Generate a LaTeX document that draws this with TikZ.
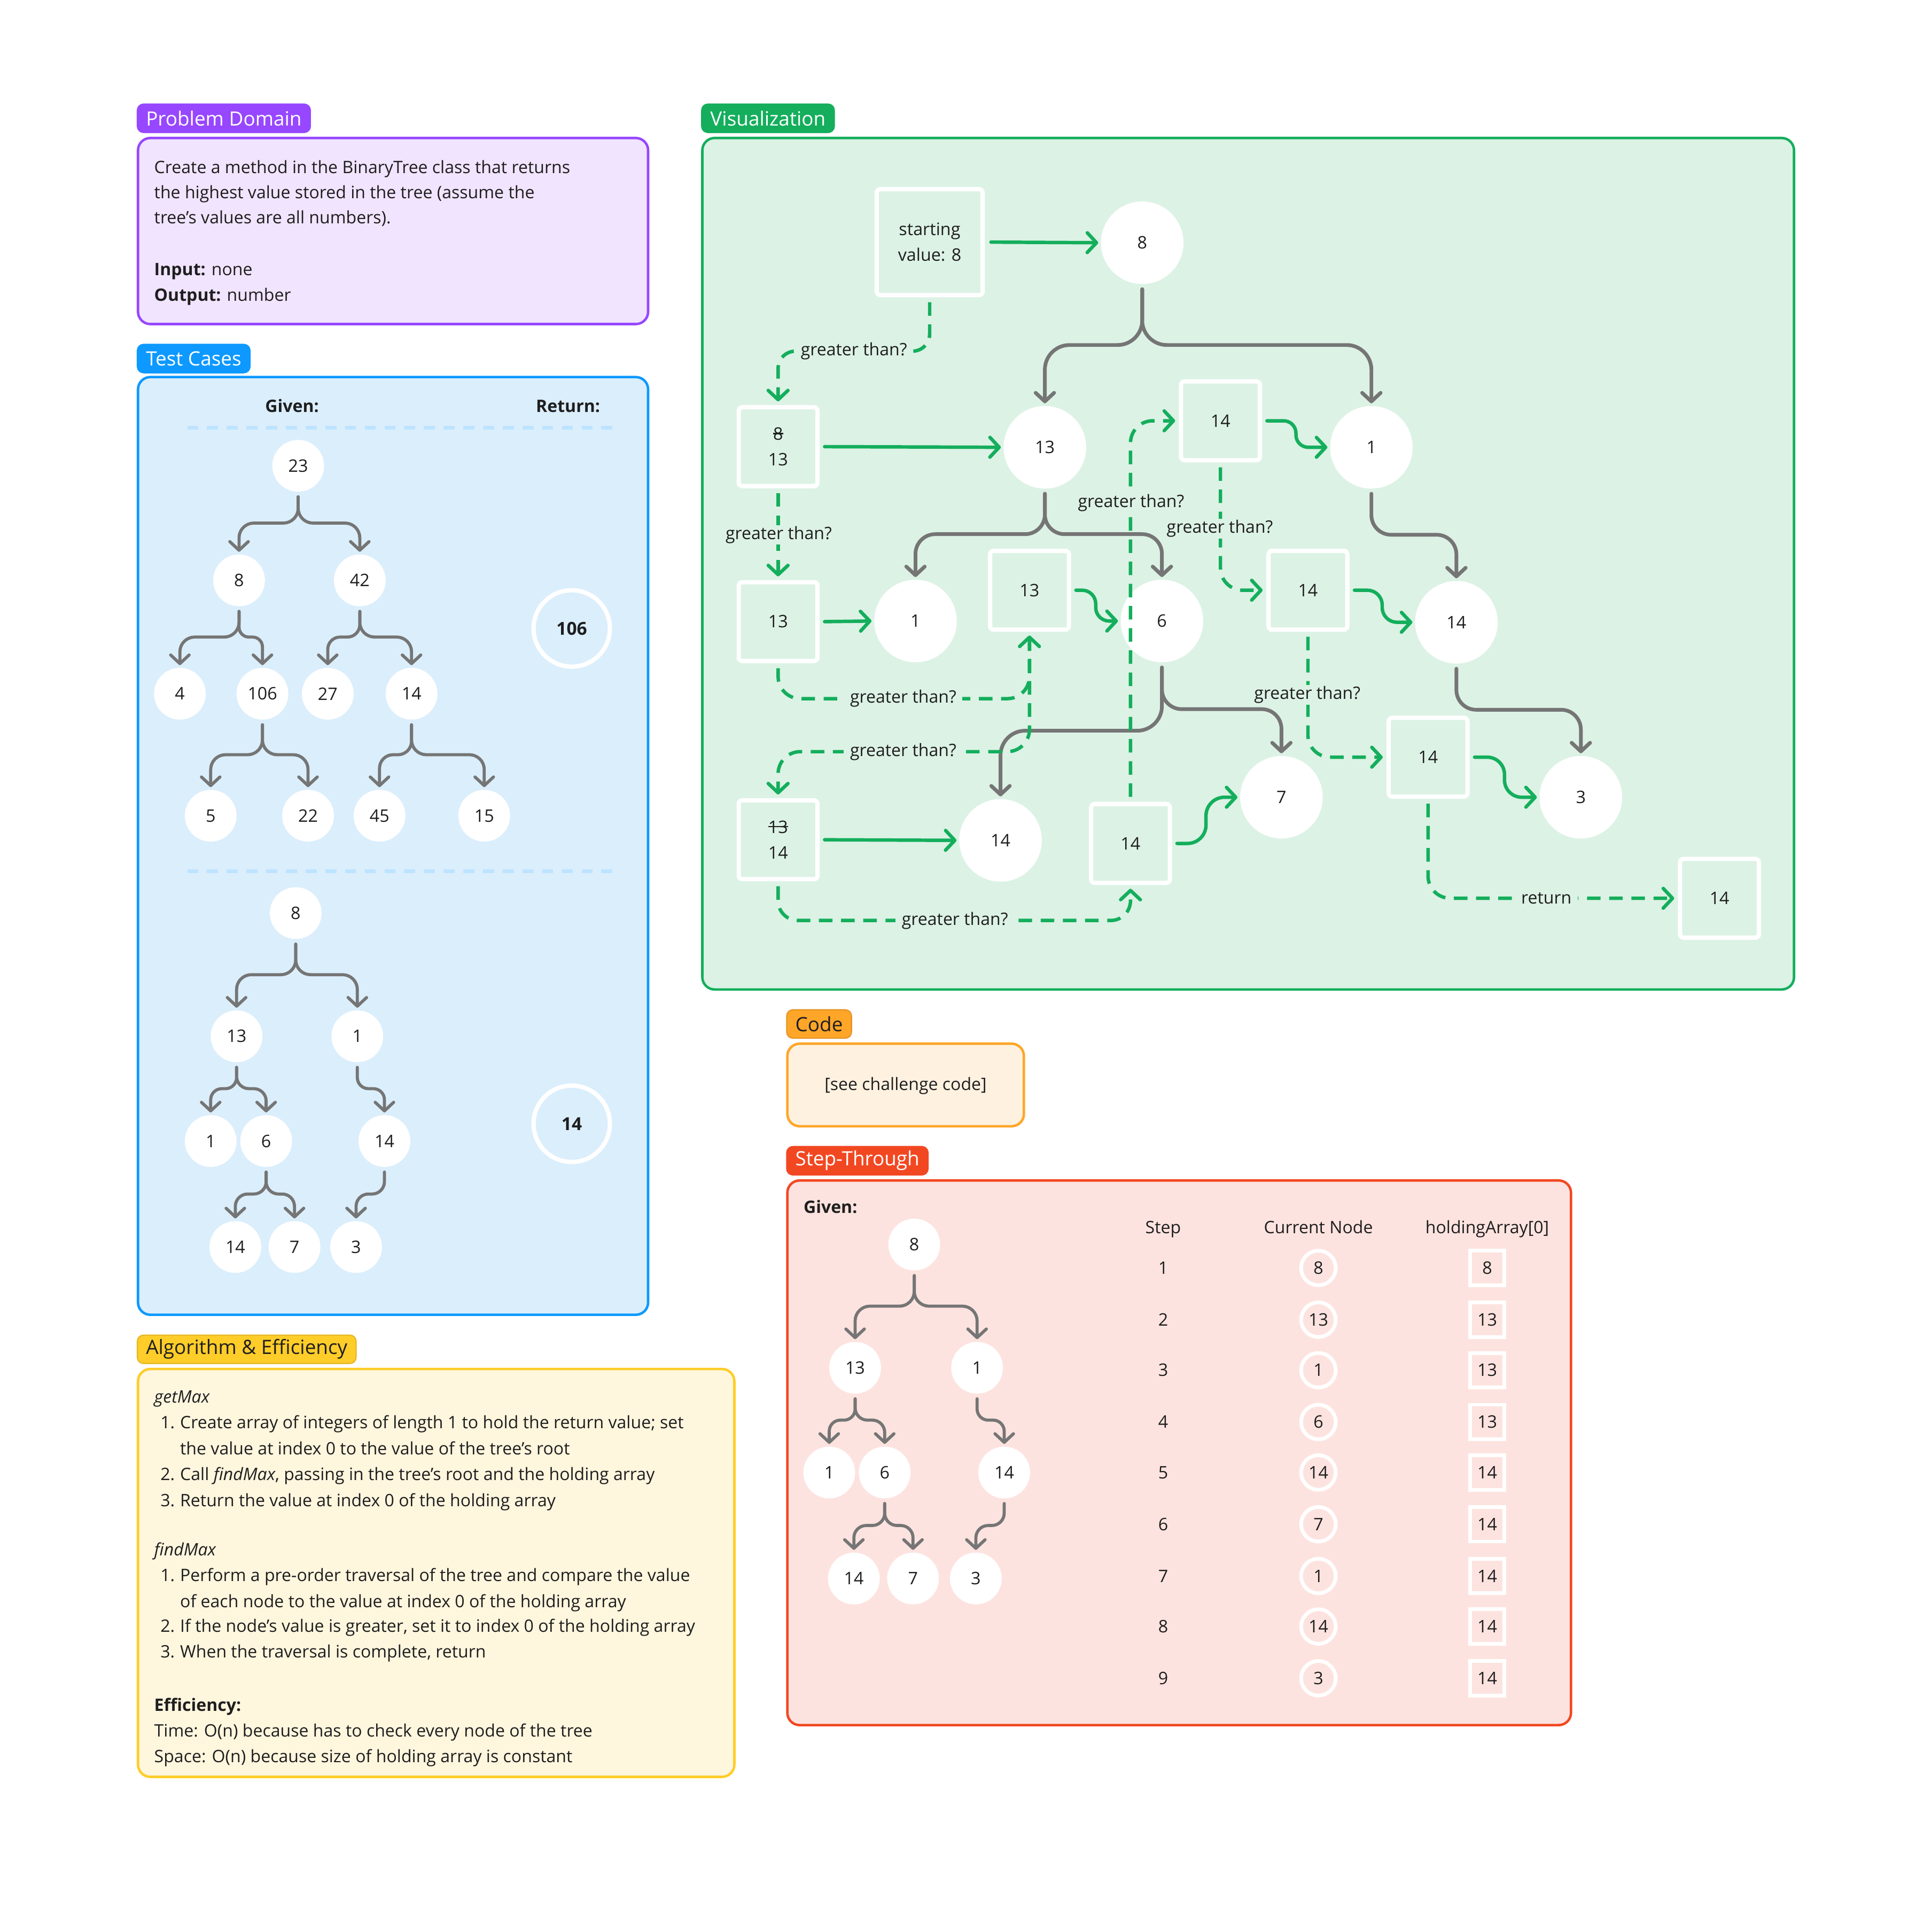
\documentclass[tikz,border=0pt]{standalone}
\usepackage{fontspec}
\setmainfont{Open Sans}
\usetikzlibrary{arrows.meta,calc}
\definecolor{ink}{HTML}{1E1E1E}
\definecolor{pur}{HTML}{9747FF}\definecolor{purbg}{HTML}{F1E4FE}
\definecolor{blu}{HTML}{0D99FF}\definecolor{blubg}{HTML}{DBEEFC}\definecolor{bludash}{HTML}{BDE3FF}
\definecolor{grn}{HTML}{14AE5C}\definecolor{grnbg}{HTML}{DCF2E5}
\definecolor{org}{HTML}{FFA629}\definecolor{orgbg}{HTML}{FFF1E0}
\definecolor{stepred}{HTML}{F24822}\definecolor{stepbg}{HTML}{FDE3DF}
\definecolor{yel}{HTML}{FFCD29}\definecolor{yelbg}{HTML}{FFF6DE}
\definecolor{edgegray}{HTML}{757575}
\newcommand\bodyfont{\fontsize{13.9}{16}\selectfont}
\newcommand\tabfont{\fontsize{16}{18}\selectfont}
\newcommand\numfont{\fontsize{14}{21}\selectfont}
\newcommand\vfont{\fontsize{13.9}{16}\selectfont}
\newcommand\boldnum{\fontsize{14.5}{17}\selectfont\bfseries}
\newcommand\smallnum{\fontsize{14}{17}\selectfont}
\newcommand\strk[1]{\leavevmode\setbox0=\hbox{#1}\rlap{\copy0}\rule[0.33em]{\wd0}{0.075em}}
\tikzset{
  txt/.style={anchor=base west, inner sep=0pt, text=ink, font=\bodyfont},
  tab/.style={anchor=north west, rounded corners=5pt, minimum height=23pt, inner xsep=7pt, inner ysep=0pt, font=\tabfont, line width=1pt},
  panel/.style={rounded corners=10pt, line width=2pt},
  tn/.style={circle, fill=white, minimum size=42pt, inner sep=0pt, text=ink, font=\numfont},
  vn/.style={circle, fill=white, minimum size=67pt, inner sep=0pt, text=ink, font=\numfont},
  vbox/.style={rectangle, draw=white, fill=grnbg, line width=3.5pt, rounded corners=3pt, minimum size=64pt, inner sep=0pt, text=ink, font=\numfont, align=center},
  treeedge/.style={draw=edgegray, line width=2.5pt, line cap=round, -{Straight Barb[length=7pt,width=15pt,round]}},
  vedge/.style={line width=3pt},
  gline/.style={draw=grn, line width=2.8pt, line cap=round, -{Straight Barb[length=7.5pt,width=16pt,round]}},
  gdash/.style={gline, line cap=butt, dash pattern=on 11pt off 7pt},
  glab/.style={fill=grnbg, inner xsep=5pt, inner ysep=1pt, text=ink, font=\vfont},
  ring/.style={circle, draw=white, line width=3.5pt, minimum size=62pt, inner sep=0pt, text=ink, font=\boldnum},
  cring/.style={circle, draw=white, line width=3pt, minimum size=28pt, inner sep=0pt, text=ink, font=\smallnum},
  hsq/.style={rectangle, draw=white, line width=3pt, minimum size=28pt, inner sep=0pt, text=ink, font=\smallnum},
}
\newcommand\tedge[4][]{%
  \path ($(#2.south)!.5!(#3.north)$) coordinate (tm);
  \draw[treeedge,#1,rounded corners=#4pt] ([yshift=-4pt]#2.south) -- (#2.south |- tm) -- (#3.north |- tm) -- ([yshift=2pt]#3.north);
}
\newcommand\gstep[3]{%
  \path ($(#1.east)!.5!(#2.west)$) coordinate (sm);
  \draw[gline, rounded corners=#3pt] ([xshift=4pt]#1.east) -- (#1.east -| sm) -- (sm |- #2.west) -- ([xshift=-2pt]#2.west);
}
\begin{document}
\begin{tikzpicture}[x=1pt,y=-1pt]
\useasboundingbox (0,0) rectangle (1568,1554);
\fill[white] (0,0) rectangle (1568,1554);

% ---------- panels ----------
\draw[panel, draw=pur, fill=purbg] (112,112) rectangle (526,263);
\draw[panel, draw=blu, fill=blubg] (112,306) rectangle (526,1067);
\draw[panel, draw=grn, fill=grnbg] (570,112) rectangle (1456,803);
\draw[panel, draw=org, fill=orgbg] (639,847) rectangle (831,914);
\draw[panel, draw=stepred, fill=stepbg] (639,958) rectangle (1275,1400);
\draw[panel, draw=yel, fill=yelbg] (112,1111) rectangle (596,1442);

\node[tab, fill=pur, draw=pur, text=white] (tabpd) at (111,84) {Problem Domain};
\node[tab, fill=blu, draw=blu, text=white] (tabtc) at (111,279) {Test Cases};
\node[tab, fill=grn, draw=grn, text=white] (tabvz) at (569,84) {Visualization};
\node[tab, fill=org, draw=org!90!black, text=ink] (tabcd) at (638,819) {Code};
\node[tab, fill=stepred, draw=stepred, text=white] (tabst) at (638,930) {Step-Through};
\node[tab, fill=yel, draw=yel!90!black, text=ink] (tabal) at (111,1083) {Algorithm \& Efficiency};

% ---------- problem domain ----------
\node[txt] (pd1) at (125,140.5) {Create a method in the BinaryTree class that returns};
\node[txt] (pd2) at (125,161) {the highest value stored in the tree (assume the};
\node[txt] (pd3) at (125,181.5) {tree’s values are all numbers).};
\node[txt] (pd4) at (125,223.5) {\textbf{Input:} none};
\node[txt] (pd5) at (125,244.5) {\textbf{Output:} number};

% ---------- test cases ----------
\node[txt, anchor=base, font=\bodyfont\bfseries] (tgiven) at (237,334.5) {Given:};
\node[txt, anchor=base, font=\bodyfont\bfseries] (treturn) at (461,334.5) {Return:};
\draw[bludash, line width=3pt, dash pattern=on 9pt off 7pt] (152,347) -- (500,347);
\draw[bludash, line width=3pt, dash pattern=on 9pt off 7pt] (152,707) -- (500,707);

\node[tn] (a23) at (242,378) {23};
\node[tn] (a8) at (194,471) {8};
\node[tn] (a42) at (292,471) {42};
\node[tn] (a4) at (146,563) {4};
\node[tn] (a106) at (213,563) {106};
\node[tn] (a27) at (266,563) {27};
\node[tn] (a14) at (334,563) {14};
\node[tn] (a5) at (171,662) {5};
\node[tn] (a22) at (250,662) {22};
\node[tn] (a45) at (308,662) {45};
\node[tn] (a15) at (393,662) {15};
\node[ring] (ret1) at (464,510) {106};
\tedge{a23}{a8}{12}
\tedge{a23}{a42}{12}
\tedge{a8}{a4}{12}
\tedge{a8}{a106}{8}
\tedge{a42}{a27}{10}
\tedge{a42}{a14}{12}
\tedge{a106}{a5}{12}
\tedge{a106}{a22}{12}
\tedge{a14}{a45}{11}
\tedge{a14}{a15}{12}

\node[tn] (b8) at (240,741) {8};
\node[tn] (b13) at (192,841) {13};
\node[tn] (b1) at (290,841) {1};
\node[tn] (b1l) at (171,926) {1};
\node[tn] (b6) at (216,926) {6};
\node[tn] (b14) at (312,926) {14};
\node[tn] (b14l) at (191,1012) {14};
\node[tn] (b7) at (239,1012) {7};
\node[tn] (b3) at (289,1012) {3};
\node[ring] (ret2) at (464,912) {14};
\tedge{b8}{b13}{12}
\tedge{b8}{b1}{12}
\tedge{b13}{b1l}{9}
\tedge{b13}{b6}{10}
\tedge{b1}{b14}{9}
\tedge{b6}{b14l}{10}
\tedge{b6}{b7}{10}
\tedge{b14}{b3}{10}

% ---------- visualization ----------
\node[vbox, minimum size=86pt] (start) at (754.5,196.5) {starting\\value: 8};
\node[vn] (c8) at (927,197) {8};
\node[vbox] (B1) at (631.5,362.5) {\strk{8}\\13};
\node[vn] (c13) at (848,363) {13};
\node[vbox] (B14a) at (990.5,341.5) {14};
\node[vn] (c1a) at (1113,363) {1};
\node[vbox] (B2) at (631.5,504.5) {13};
\node[vn] (c1b) at (743,504) {1};
\node[vbox] (B3) at (835.5,479) {13};
\node[vn] (c6) at (943,504) {6};
\node[vbox] (B4) at (1061.5,479) {14};
\node[vn] (c14a) at (1182,505) {14};
\node[vbox] (B5) at (1159,614.5) {14};
\node[vn] (c7) at (1040,647) {7};
\node[vn] (c3) at (1283,647) {3};
\node[vbox] (B6) at (631.5,681.5) {\strk{13}\\14};
\node[vn] (c14b) at (812,682) {14};
\node[vbox] (B7) at (917.5,684.5) {14};
\node[vbox] (B8) at (1395.5,729) {14};

\tedge[vedge]{c8}{c13}{20}
\tedge[vedge]{c8}{c1a}{20}
\tedge[vedge]{c13}{c1b}{16}
\tedge[vedge]{c13}{c6}{16}
\tedge[vedge]{c1a}{c14a}{16}
\tedge[vedge]{c6}{c14b}{20}
\tedge[vedge]{c6}{c7}{16}
\tedge[vedge]{c14a}{c3}{16}

\draw[gline] ([xshift=5pt]start.east) -- ([xshift=-2pt]c8.west);
\draw[gline] ([xshift=4pt]B1.east) -- ([xshift=-2pt]c13.west);
\draw[gline] ([xshift=4pt]B2.east) -- ([xshift=-2pt]c1b.west);
\draw[gline] ([xshift=4pt]B6.east) -- ([xshift=-2pt]c14b.west);
\gstep{B14a}{c1a}{10}
\gstep{B3}{c6}{11}
\gstep{B4}{c14a}{12}
\gstep{B5}{c3}{14}
\gstep{B7}{c7}{15}

\coordinate (g1) at (693,285);
\coordinate (g3) at (733,567);
\coordinate (g4) at (733,610);
\coordinate (g5) at (775,747);
\draw[gdash, rounded corners=14pt] ([yshift=-4pt]start.south) -- (start.south |- g1) -- (B1.north |- g1) -- ([yshift=3pt]B1.north);
\draw[gdash] ([yshift=-4pt]B1.south) -- ([yshift=3pt]B2.north);
\draw[gdash, rounded corners=18pt] ([yshift=-4pt]B2.south) -- (B2.south |- g3) -- (B3.south |- g3) -- ([yshift=-3pt]B3.south);
\draw[gdash, rounded corners=18pt] ([yshift=-4pt]B3.south) -- (B3.south |- g4) -- (B6.north |- g4) -- ([yshift=3pt]B6.north);
\draw[gdash, rounded corners=16pt] ([yshift=-4pt]B6.south) -- (B6.south |- g5) -- (B7.south |- g5) -- ([yshift=-3pt]B7.south);
\draw[gdash, rounded corners=18pt] ([yshift=4pt]B7.north) -- (B7.north |- B14a.west) -- ([xshift=-3pt]B14a.west);
\draw[gdash, rounded corners=18pt] ([yshift=-4pt]B14a.south) -- (B14a.south |- B4.west) -- ([xshift=-3pt]B4.west);
\draw[gdash, rounded corners=18pt] ([yshift=-4pt]B4.south) -- (B4.south |- B5.west) -- ([xshift=-3pt]B5.west);
\draw[gdash, rounded corners=18pt] ([yshift=-4pt]B5.south) -- (B5.south |- B8.west) -- ([xshift=-3pt]B8.west);

\node[glab] (l1) at (g1) {greater than?};
\node[glab] (l2) at (632,434) {greater than?};
\node[glab] (l3) at (g3) {greater than?};
\node[glab] (l4) at (g4) {greater than?};
\node[glab] (l5) at (g5) {greater than?};
\node[glab] (l6) at (918,408) {greater than?};
\node[glab] (l7) at (990,429) {greater than?};
\node[glab] (l8) at (1061,564) {greater than?};
\node[glab] (l9) at (1255,729) {return};

% ---------- code ----------
\node[txt, anchor=center, font=\vfont] (codetxt) at (735,881) {[see challenge code]};

% ---------- step-through ----------
\node[txt, font=\bodyfont\bfseries] (sgiven) at (652,984.5) {Given:};
\node[tn] (s8) at (742,1010) {8};
\node[tn] (s13) at (694,1110) {13};
\node[tn] (s1) at (793,1110) {1};
\node[tn] (s1l) at (673,1195) {1};
\node[tn] (s6) at (718,1195) {6};
\node[tn] (s14) at (815,1195) {14};
\node[tn] (s14l) at (693,1281) {14};
\node[tn] (s7) at (741,1281) {7};
\node[tn] (s3) at (792,1281) {3};
\tedge{s8}{s13}{12}
\tedge{s8}{s1}{12}
\tedge{s13}{s1l}{9}
\tedge{s13}{s6}{10}
\tedge{s1}{s14}{9}
\tedge{s6}{s14l}{10}
\tedge{s6}{s7}{10}
\tedge{s14}{s3}{10}

\node[txt, anchor=base, font=\vfont] (hstep) at (944,1001) {Step};
\node[txt, anchor=base, font=\vfont] (hcur) at (1070,1001) {Current Node};
\node[txt, anchor=base, font=\vfont] (hhold) at (1207,1001) {holdingArray[0]};
\foreach \i/\y/\c/\h in {1/1029/8/8, 2/1071/13/13, 3/1112/1/13, 4/1154/6/13, 5/1195/14/14, 6/1237/7/14, 7/1279/1/14, 8/1320/14/14, 9/1362/3/14}{
  \node[txt, anchor=center, font=\smallnum] (sn\i) at (944,\y) {\i};
  \node[cring] (cn\i) at (1070,\y) {\c};
  \node[hsq] (ha\i) at (1207,\y) {\h};
}

% ---------- algorithm ----------
\node[txt] (al1) at (125,1138.5) {\textit{getMax}};
\node[txt] (al2n) at (130,1159.5) {1.};
\node[txt] (al2) at (146,1159.5) {Create array of integers of length 1 to hold the return value; set};
\node[txt] (al3) at (146,1180.5) {the value at index 0 to the value of the tree’s root};
\node[txt] (al4n) at (130,1201.5) {2.};
\node[txt] (al4) at (146,1201.5) {Call \textit{findMax}, passing in the tree’s root and the holding array};
\node[txt] (al5n) at (130,1222.5) {3.};
\node[txt] (al5) at (146,1222.5) {Return the value at index 0 of the holding array};
\node[txt] (al6) at (125,1262.5) {\textit{findMax}};
\node[txt] (al7n) at (130,1283.5) {1.};
\node[txt] (al7) at (146,1283.5) {Perform a pre-order traversal of the tree and compare the value};
\node[txt] (al8) at (146,1304.5) {of each node to the value at index 0 of the holding array};
\node[txt] (al9n) at (130,1324.5) {2.};
\node[txt] (al9) at (146,1324.5) {If the node’s value is greater, set it to index 0 of the holding array};
\node[txt] (al10n) at (130,1345.5) {3.};
\node[txt] (al10) at (146,1345.5) {When the traversal is complete, return};
\node[txt] (al11) at (125,1388.5) {\textbf{Efficiency:}};
\node[txt] (al12) at (125,1409.5) {Time: O(n) because has to check every node of the tree};
\node[txt] (al13) at (125,1430.5) {Space: O(n) because size of holding array is constant};
\end{tikzpicture}
\end{document}
